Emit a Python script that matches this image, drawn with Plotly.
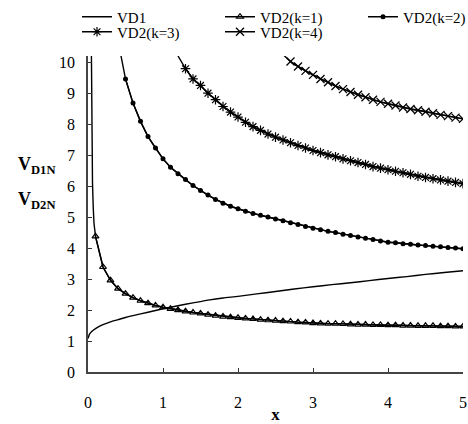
import plotly.graph_objects as go

# ---- data -------------------------------------------------------------
# VD1: plain curve, no markers
vd1_x = [0, 0.02, 0.05, 0.1, 0.15, 0.2, 0.3, 0.4, 0.5, 0.6, 0.8, 1.0, 1.2,
         1.4, 1.6, 1.8, 2.0, 2.25, 2.5, 2.75, 3.0, 3.25, 3.5, 3.75, 4.0,
         4.25, 4.5, 4.75, 5.0]
vd1_y = [1.08, 1.22, 1.31, 1.40, 1.47, 1.53, 1.62, 1.69, 1.76, 1.82, 1.93,
         2.04, 2.14, 2.23, 2.32, 2.39, 2.44, 2.52, 2.60, 2.68, 2.75, 2.82,
         2.88, 2.95, 3.02, 3.08, 3.15, 3.21, 3.27]

# VD2(k=1): steep lead-in near x=0, then marked points every 0.1
k1_lead_x = [0.045, 0.05, 0.06, 0.07, 0.08]
k1_lead_y = [10.4, 8.2, 6.1, 5.3, 4.8]
k1_x = [round(0.1 * i, 1) for i in range(1, 51)]
k1_y = [4.38, 3.39, 2.96, 2.69, 2.53, 2.40, 2.30, 2.22, 2.15, 2.09,
        2.04, 2.00, 1.96, 1.92, 1.89, 1.85, 1.82, 1.79, 1.77, 1.75,
        1.73, 1.71, 1.69, 1.67, 1.66, 1.64, 1.63, 1.61, 1.60, 1.58,
        1.57, 1.56, 1.56, 1.55, 1.54, 1.53, 1.53, 1.52, 1.52, 1.51,
        1.51, 1.50, 1.50, 1.49, 1.49, 1.49, 1.48, 1.48, 1.47, 1.47]

# VD2(k=2)
k2_lead_x = [0.4]
k2_lead_y = [10.7]
k2_x = [round(0.1 * i, 1) for i in range(5, 51)]
k2_y = [9.46, 8.68, 8.09, 7.60, 7.23, 6.88, 6.61, 6.40, 6.21, 6.02,
        5.86, 5.71, 5.57, 5.45, 5.35, 5.27, 5.19, 5.12, 5.06, 5.00,
        4.94, 4.88, 4.82, 4.76, 4.70, 4.64, 4.59, 4.54, 4.50, 4.45,
        4.41, 4.36, 4.32, 4.28, 4.23, 4.19, 4.17, 4.14, 4.12, 4.10,
        4.08, 4.06, 4.04, 4.02, 4.00, 3.98]

# VD2(k=3)
k3_lead_x = [1.2]
k3_lead_y = [10.2]
k3_x = [round(0.1 * i, 1) for i in range(13, 51)]
k3_y = [9.79, 9.46, 9.25, 9.00, 8.79, 8.57, 8.39, 8.23, 8.06, 7.92,
        7.80, 7.68, 7.58, 7.49, 7.40, 7.31, 7.23, 7.15, 7.08, 7.01,
        6.95, 6.88, 6.82, 6.76, 6.70, 6.63, 6.58, 6.53, 6.48, 6.43,
        6.38, 6.32, 6.28, 6.24, 6.20, 6.16, 6.12, 6.08]

# VD2(k=4)
k4_lead_x = [2.6]
k4_lead_y = [10.25]
k4_x = [round(0.1 * i, 1) for i in range(27, 51)]
k4_y = [10.02, 9.86, 9.72, 9.59, 9.46, 9.35, 9.23, 9.13, 9.04, 8.95,
        8.87, 8.79, 8.72, 8.66, 8.60, 8.54, 8.49, 8.45, 8.40, 8.35,
        8.30, 8.26, 8.21, 8.17]

x_ticks = [0, 1, 2, 3, 4, 5]
y_ticks = list(range(0, 11))

FONT = "Liberation Serif"
LINE_W = 1.4

fig = go.Figure()

# VD1
fig.add_trace(go.Scatter(
    x=vd1_x, y=vd1_y, mode="lines", name="VD1",
    line=dict(color="black", width=LINE_W, shape="spline", smoothing=0.6),
    legend="legend"))

series = [
    ("VD2(k=1)", k1_lead_x, k1_lead_y, k1_x, k1_y,
     dict(symbol="triangle-up-open", size=6, color="black",
          line=dict(color="black", width=1.2)), "legend"),
    ("VD2(k=2)", k2_lead_x, k2_lead_y, k2_x, k2_y,
     dict(symbol="circle", size=5, color="black",
          line=dict(color="black", width=0)), "legend"),
    ("VD2(k=3)", k3_lead_x, k3_lead_y, k3_x, k3_y,
     dict(symbol="asterisk-open", size=8, color="black",
          line=dict(color="black", width=1.2)), "legend2"),
    ("VD2(k=4)", k4_lead_x, k4_lead_y, k4_x, k4_y,
     dict(symbol="x-thin-open", size=8, color="black",
          line=dict(color="black", width=1.3)), "legend2"),
]

for name, lx, ly, mx, my, marker, leg in series:
    # continuous curve including the unmarked lead-in
    fig.add_trace(go.Scatter(
        x=lx + mx, y=ly + my, mode="lines", showlegend=False,
        line=dict(color="black", width=LINE_W), hoverinfo="skip",
        legend=leg))
    # marked points
    fig.add_trace(go.Scatter(
        x=mx, y=my, mode="lines+markers", name=name,
        line=dict(color="black", width=LINE_W), marker=marker,
        legend=leg))

L, R, T, B = 88, 5, 56, 52
W, H = 468, 424
plot_h = H - T - B


def py(p):
    """paper y coordinate for a pixel row"""
    return (H - B - p) / plot_h


def px(p):
    """paper x coordinate for a pixel column"""
    return (p - L) / (W - L - R)


legend_common = dict(
    orientation="h", xanchor="left", yanchor="middle",
    entrywidth=98, entrywidthmode="pixels",
    font=dict(family=FONT, size=15, color="black"),
    bgcolor="rgba(0,0,0,0)", borderwidth=0, itemwidth=30,
    tracegroupgap=0)

fig.update_layout(
    width=W, height=H,
    margin=dict(l=L, r=R, t=T, b=B, autoexpand=False),
    paper_bgcolor="white", plot_bgcolor="white",
    font=dict(family=FONT, size=15, color="black"),
    legend=dict(x=px(77), y=py(17), **legend_common),
    legend2=dict(x=px(77), y=py(32), **legend_common),
    xaxis=dict(
        range=[0, 5], tickvals=x_ticks, ticktext=[str(v) for v in x_ticks],
        ticks="inside", ticklen=4, tickwidth=1, tickcolor="#333",
        showline=True, linecolor="#444", linewidth=1.5,
        showgrid=False, zeroline=False, ticklabeloverflow="allow",
        tickfont=dict(family=FONT, size=16, color="black"),
        ticklabelstandoff=15,
        title=dict(text="<b>x</b>", font=dict(family=FONT, size=17),
                   standoff=9)),
    yaxis=dict(
        range=[0, 10.2], tickvals=y_ticks, ticktext=[str(v) for v in y_ticks],
        ticks="inside", ticklen=4, tickwidth=1, tickcolor="#333",
        showline=True, linecolor="#444", linewidth=1.5,
        showgrid=False, zeroline=False,
        tickfont=dict(family=FONT, size=16, color="black"),
        ticklabelstandoff=8),
    annotations=[
        dict(text="<b>V<sub>D1N</sub></b>", xref="paper", yref="paper",
             x=px(16), y=py(165), xanchor="left", yanchor="middle",
             showarrow=False, font=dict(family=FONT, size=18)),
        dict(text="<b>V<sub>D2N</sub></b>", xref="paper", yref="paper",
             x=px(16), y=py(200), xanchor="left", yanchor="middle",
             showarrow=False, font=dict(family=FONT, size=18)),
    ],
)

fig.write_html("out.html")
